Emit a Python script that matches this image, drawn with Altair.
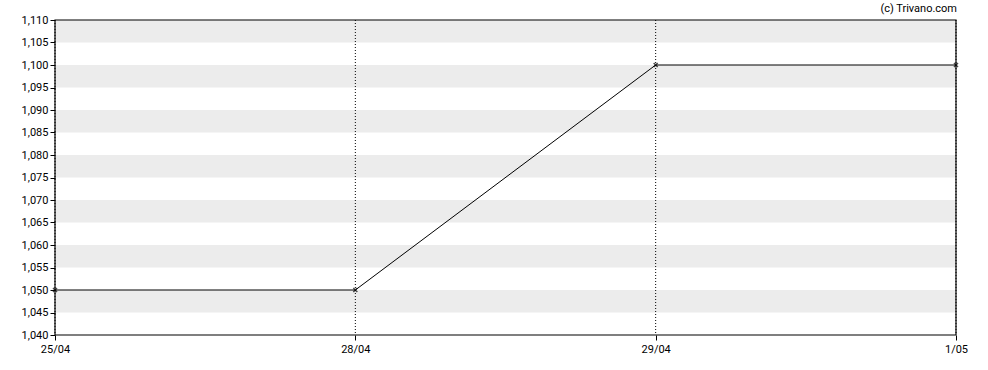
import altair as alt
import pandas as pd

dates = ["25/04", "28/04", "29/04", "1/05"]
prices = [1050, 1050, 1100, 1100]
y_ticks = [1040, 1045, 1050, 1055, 1060, 1065, 1070, 1075, 1080, 1085, 1090, 1095, 1100, 1105, 1110]
band_lo = [1045, 1055, 1065, 1075, 1085, 1095, 1105]
band_hi = [1050, 1060, 1070, 1080, 1090, 1100, 1110]

W, H = 901, 315

df = pd.DataFrame({"date": dates, "price": prices})
bands = pd.DataFrame({"lo": band_lo, "hi": band_hi})

yscale = alt.Scale(domain=[1040, 1110], nice=False, zero=False)
yaxis = alt.Axis(title=None, values=y_ticks, format=",d", grid=False, tickColor="#000000",
                 tickSize=5, domain=False, labelOverlap=False, labelFont="Roboto",
                 labelFontSize=11, labelColor="#000000", labelPadding=2)
xscale = alt.Scale(type="point", padding=0)
xaxis = alt.Axis(title=None, labelAngle=0, grid=False, tickColor="#000000", tickSize=5,
                 domain=False, labelFont="Roboto", labelFontSize=11,
                 labelColor="#000000", labelPadding=3, labelOverlap=False)

band_layer = alt.Chart(bands).mark_rect(color="#ececec").encode(
    x=alt.value(0), x2=alt.value(W),
    y=alt.Y("lo:Q", scale=yscale, axis=yaxis),
    y2="hi:Q",
)

vrules = alt.Chart(df).mark_rule(color="#000000", strokeDash=[1, 2], strokeWidth=1).encode(
    x=alt.X("date:O", sort=None, scale=xscale, axis=xaxis))

line = alt.Chart(df).mark_line(color="#000000", strokeWidth=1).encode(
    x=alt.X("date:O", sort=None, scale=xscale, axis=xaxis),
    y=alt.Y("price:Q", scale=yscale, axis=yaxis))

pts = alt.Chart(df).mark_point(shape="M-1,-1L1,1M-1,1L1,-1", color="#000000",
                               size=16, strokeWidth=1.5, filled=False).encode(
    x=alt.X("date:O", sort=None, scale=xscale, axis=xaxis),
    y=alt.Y("price:Q", scale=yscale, axis=yaxis))

credit = alt.Chart(pd.DataFrame({"t": ["(c) Trivano.com"]})).mark_text(
    align="right", baseline="middle", font="Roboto", fontSize=11, color="#000000").encode(
    x=alt.value(W + 1), y=alt.value(-11), text="t:N")

border = alt.Chart(pd.DataFrame({"a": [0]})).mark_rect(
    fill=None, stroke="#000000", strokeWidth=1.2).encode(
    x=alt.value(0), x2=alt.value(W), y=alt.value(0), y2=alt.value(H))

chart = alt.layer(band_layer, vrules, line, pts, border, credit).properties(
    width=W, height=H, autosize="none",
    padding={"left": 55, "top": 20, "right": 32, "bottom": 35},
).configure(background="#ffffff").configure_view(stroke=None)

chart.save("out.html", embed_options={"renderer": "svg", "actions": False})
